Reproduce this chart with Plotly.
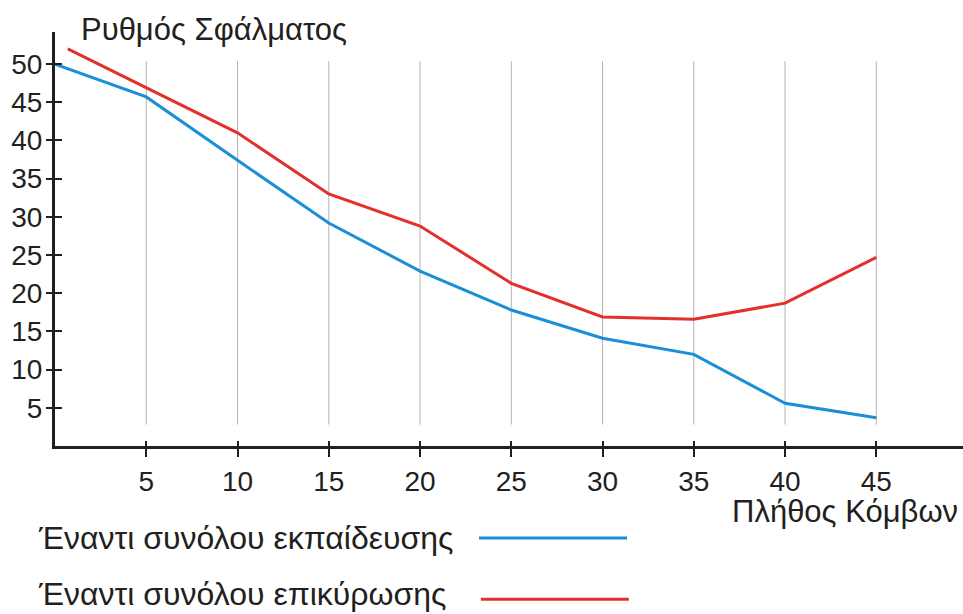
import plotly.graph_objects as go

# Error rate vs number of nodes
nodes_train = [0, 5, 10, 15, 20, 25, 30, 35, 40, 45]
err_train = [50.0, 45.7, 37.4, 29.2, 22.9, 17.8, 14.1, 12.0, 5.6, 3.7]

nodes_valid = [0.7, 5, 10, 15, 20, 25, 30, 35, 40, 45]
err_valid = [52.0, 46.9, 41.0, 33.0, 28.8, 21.3, 16.9, 16.6, 18.7, 24.7]

x_ticks = [5, 10, 15, 20, 25, 30, 35, 40, 45]
y_ticks = [5, 10, 15, 20, 25, 30, 35, 40, 45, 50]

label_train = "Έναντι συνόλου εκπαίδευσης"
label_valid = "Έναντι συνόλου επικύρωσης"
y_title = "Ρυθμός Σφάλματος"
x_title = "Πλήθος Κόμβων"

BLUE = "#1b8fd6"
RED = "#e3302c"
INK = "#231f20"
FONT = "Liberation Sans, Arial, sans-serif"

X_RANGE = [0, 49.75]
Y_RANGE = [0, 54.2]

fig = go.Figure()

fig.add_trace(go.Scatter(x=nodes_train, y=err_train, mode="lines",
                         line=dict(color=BLUE, width=3), showlegend=False))
fig.add_trace(go.Scatter(x=nodes_valid, y=err_valid, mode="lines",
                         line=dict(color=RED, width=3), showlegend=False))
# empty trace so the overlay axes (inner tick halves) are drawn
fig.add_trace(go.Scatter(x=[], y=[], xaxis="x2", yaxis="y2", showlegend=False))

# short vertical guide lines at each x tick
shapes = []
for xv in x_ticks:
    shapes.append(dict(type="line", xref="x", yref="y", x0=xv, x1=xv,
                       y0=2.8, y1=50.4, line=dict(color="#b4b4b4", width=1),
                       layer="below"))

# legend keys drawn after the text
shapes.append(dict(type="line", xref="paper", yref="paper", x0=0.467, x1=0.630,
                   y0=-0.222, y1=-0.222, line=dict(color=BLUE, width=3)))
shapes.append(dict(type="line", xref="paper", yref="paper", x0=0.469, x1=0.632,
                   y0=-0.370, y1=-0.370, line=dict(color=RED, width=3)))

annotations = [
    dict(text=y_title, xref="paper", yref="paper", x=0.026, y=1.007,
         xanchor="left", yanchor="middle", showarrow=False,
         font=dict(size=31, color=INK, family=FONT)),
    dict(text=x_title, xref="paper", yref="paper", x=0.997, y=-0.158,
         xanchor="right", yanchor="middle", showarrow=False,
         font=dict(size=31, color=INK, family=FONT)),
    dict(text=label_train, xref="paper", yref="paper", x=-0.021, y=-0.222,
         xanchor="left", yanchor="middle", showarrow=False,
         font=dict(size=32, color=INK, family=FONT)),
    dict(text=label_valid, xref="paper", yref="paper", x=-0.021, y=-0.357,
         xanchor="left", yanchor="middle", showarrow=False,
         font=dict(size=32, color=INK, family=FONT)),
]

axis_common = dict(showgrid=False, zeroline=False, tickcolor=INK, tickwidth=2)

fig.update_layout(
    width=963, height=614,
    margin=dict(l=55, r=0, t=32, b=168),
    paper_bgcolor="white", plot_bgcolor="white",
    font=dict(family=FONT, color=INK, size=28),
    xaxis=dict(range=X_RANGE, tickvals=x_ticks, ticks="outside", ticklen=8,
               showline=True, linecolor=INK, linewidth=3,
               tickfont=dict(size=28, color=INK), **axis_common),
    yaxis=dict(range=Y_RANGE, tickvals=y_ticks, ticks="outside", ticklen=6,
               showline=True, linecolor=INK, linewidth=3, ticklabelstandoff=-2,
               tickfont=dict(size=28, color=INK), **axis_common),
    xaxis2=dict(range=X_RANGE, tickvals=x_ticks, ticks="inside", ticklen=5,
                overlaying="x", side="bottom", showticklabels=False,
                showline=False, **axis_common),
    yaxis2=dict(range=Y_RANGE, tickvals=y_ticks, ticks="inside", ticklen=7,
                overlaying="y", side="left", showticklabels=False,
                showline=False, **axis_common),
    shapes=shapes,
    annotations=annotations,
)

fig.write_html("out.html")
